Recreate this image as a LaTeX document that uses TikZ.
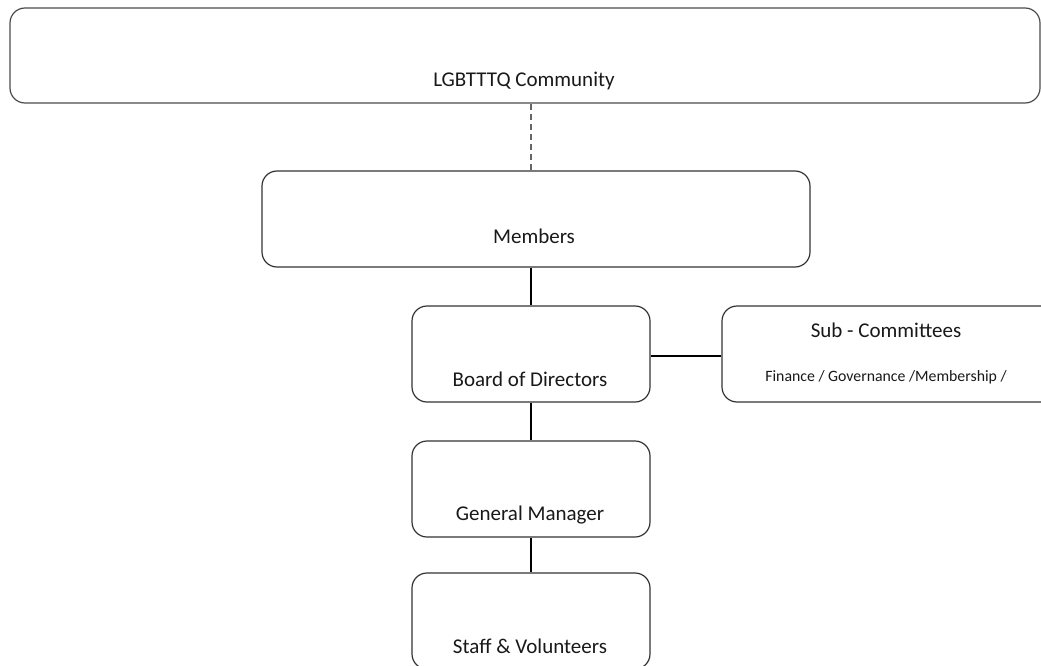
\documentclass[tikz,border=0pt]{standalone}
\usepackage{fontspec}
\setmainfont{Carlito}
\begin{document}
\begin{tikzpicture}[x=1pt,y=-1pt,
  orgbox/.style={draw=black!80, line width=1.2pt, rounded corners=15pt, fill=white, inner sep=0pt},
  lbl/.style={anchor=base, inner sep=0pt, font=\fontsize{21}{25}\selectfont, text=black!90},
  small/.style={anchor=base, inner sep=0pt, font=\fontsize{15.8}{19}\selectfont, text=black!90},
  link/.style={line width=1.2pt, draw=black}]
\useasboundingbox (0,0) rectangle (1041,666);
\clip (0,0) rectangle (1041,666);
\fill[white] (0,0) rectangle (1041,666);
% boxes
\node[orgbox, draw=black!70, minimum width=1030pt, minimum height=95pt] (comm) at (525,55.5) {};
\node[orgbox, minimum width=548pt, minimum height=96pt] (mem) at (536,219) {};
\node[orgbox, minimum width=238pt, minimum height=96pt] (board) at (531,354) {};
\node[orgbox, minimum width=340pt, minimum height=96pt] (sub) at (892,354) {};
\node[orgbox, minimum width=238pt, minimum height=96pt] (gm) at (531,489) {};
\node[orgbox, minimum width=238pt, minimum height=96pt] (staff) at (531,621) {};
% labels
\node[lbl] (tcomm) at (524,87) {LGBTTTQ Community};
\node[lbl] (tmem) at (534,243) {Members};
\node[lbl] (tboard) at (530,386) {Board of Directors};
\node[lbl] (tsub) at (886,337) {Sub - Committees};
\node[small] (tsub2) at (886,381) {Finance / Governance /Membership /};
\node[lbl] (tgm) at (530,520) {General Manager};
\node[lbl] (tstaff) at (530,653) {Staff \& Volunteers};
% connectors
\draw[link, draw=black!60, dash pattern=on 6pt off 4pt] (comm.south -| 531,0) -- (mem.north -| 531,0);
\draw[link] (mem.south -| board.north) -- (board.north);
\draw[link] ([yshift=-2pt]board.east) -- ([yshift=-2pt]sub.west);
\draw[link] (board.south) -- (gm.north);
\draw[link] (gm.south) -- (staff.north);
\end{tikzpicture}
\end{document}
